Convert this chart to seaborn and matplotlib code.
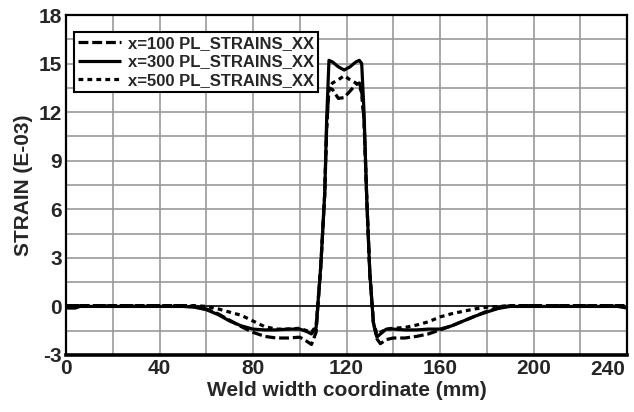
import numpy as np
import pandas as pd
import matplotlib
matplotlib.use("Agg")
import matplotlib.pyplot as plt
import seaborn as sns
from matplotlib.ticker import MultipleLocator

# ---- data ----
x_mm = [0, 4, 6, 20, 40, 50, 55, 60, 65, 70,
        75, 80, 85, 90, 95, 100, 103, 105, 107, 109,
        110.7, 111.5, 112.5, 114, 116.5, 119, 121.5, 124, 125.5, 126.5,
        127.5, 128.7, 130, 131.5, 133, 134.5, 137, 140, 145, 150,
        155, 160, 165, 170, 175, 180, 185, 190, 200, 220,
        236, 240]

strain_x100 = [0.05, 0.05, 0.05, 0.05, 0.05, 0.05, 0.0, -0.15, -0.45, -0.85,
               -1.25, -1.6, -1.85, -1.95, -1.95, -1.9, -2.15, -2.35, -1.6, 2.5,
               7.0, 11.0, 13.5, 13.4, 12.85, 12.9, 13.3, 13.7, 13.8, 13.3,
               11.5, 6.5, 2.0, -1.0, -2.0, -2.3, -2.05, -1.95, -1.95, -1.85,
               -1.7, -1.45, -1.2, -0.9, -0.6, -0.3, -0.1, 0.05, 0.05, 0.05,
               0.05, 0.05]

strain_x300 = [-0.1, -0.1, 0.0, 0.0, 0.0, 0.0, -0.05, -0.2, -0.5, -0.9,
               -1.2, -1.4, -1.45, -1.45, -1.4, -1.4, -1.55, -1.7, -1.3, 2.5,
               7.0, 11.5, 15.2, 15.1, 14.8, 14.6, 14.8, 15.1, 15.2, 15.0,
               12.0, 6.5, 2.0, -1.0, -1.9, -1.7, -1.4, -1.4, -1.45, -1.45,
               -1.4, -1.4, -1.2, -0.9, -0.6, -0.35, -0.12, 0.0, 0.0, 0.0,
               0.0, -0.1]

strain_x500 = [0.05, 0.05, 0.05, 0.05, 0.05, 0.05, 0.05, 0.0, -0.15, -0.35,
               -0.55, -0.9, -1.25, -1.4, -1.4, -1.35, -1.5, -1.6, -1.2, 2.5,
               7.0, 11.0, 13.5, 13.8, 14.0, 14.25, 14.0, 13.8, 13.6, 13.2,
               11.5, 6.5, 2.0, -1.0, -1.7, -1.6, -1.4, -1.35, -1.3, -1.15,
               -0.95, -0.65, -0.45, -0.3, -0.15, -0.05, 0.0, 0.05, 0.05, 0.05,
               0.05, 0.05]

series_labels = ["x=100 PL_STRAINS_XX", "x=300 PL_STRAINS_XX", "x=500 PL_STRAINS_XX"]
x_ticks = [0, 40, 80, 120, 160, 200, 240]
y_ticks = [-3, 0, 3, 6, 9, 12, 15, 18]

# ---- style ----
sns.set_style("white")
plt.rcParams["font.family"] = ["Liberation Sans", "DejaVu Sans"]
plt.rcParams["font.weight"] = "bold"
plt.rcParams["axes.unicode_minus"] = False

fig = plt.figure(figsize=(6.34, 4.12), dpi=100)
ax = fig.add_axes([66 / 634, 57 / 412, 561 / 634, 340 / 412])

ax.set_xlim(0, 240)
ax.set_ylim(-3, 18)
ax.xaxis.set_major_locator(MultipleLocator(40))
ax.xaxis.set_minor_locator(MultipleLocator(20))
ax.yaxis.set_major_locator(MultipleLocator(3))
ax.yaxis.set_minor_locator(MultipleLocator(1.5))
ax.grid(True, which="both", color="#9a9a9a", linewidth=1.2)
ax.set_axisbelow(True)
ax.axhline(0, color="black", linewidth=1.1, zorder=1.5)

df = pd.DataFrame({"x": x_mm, "s100": strain_x100, "s300": strain_x300, "s500": strain_x500})
styles = [(0, (3.1, 1.2)), "-", (0, (1.5, 1.3))]
for col, lab, ls in zip(["s100", "s300", "s500"], series_labels, styles):
    sns.lineplot(data=df, x="x", y=col, ax=ax, color="black", linewidth=2.3,
                 linestyle=ls, label=lab, solid_capstyle="butt",
                 dash_capstyle="butt", zorder=3)

ax.set_xticks(x_ticks)
ax.set_yticks(y_ticks)
ax.set_xticklabels([str(t) if t != 240 else "" for t in x_ticks])
ax.set_yticklabels([str(t) for t in y_ticks])
ax.annotate("240", xy=(240, -3), xycoords="data", xytext=(-14, -3.5),
            textcoords="offset points", ha="center", va="top",
            fontsize=15, fontweight="bold")
ax.tick_params(axis="both", which="both", length=0, labelsize=15, pad=3)
for lbl in ax.get_xticklabels() + ax.get_yticklabels():
    lbl.set_fontweight("bold")

ax.set_xlabel("Weld width coordinate (mm)", fontsize=15, fontweight="bold", labelpad=2)
ax.set_ylabel("STRAIN (E-03)", fontsize=15, fontweight="bold", labelpad=4)

for name, sp in ax.spines.items():
    sp.set_visible(True)
    sp.set_color("black")
    sp.set_linewidth(1.6)
ax.spines["bottom"].set_linewidth(2.6)

leg = ax.legend(loc="upper left", bbox_to_anchor=(0.014, 0.95), frameon=True,
                fancybox=False, shadow=False, edgecolor="black", framealpha=1,
                fontsize=12, handlelength=2.6, handletextpad=0.4,
                labelspacing=0.2, borderpad=0.25, borderaxespad=0)
leg.get_frame().set_linewidth(1.5)
for t in leg.get_texts():
    t.set_fontweight("bold")

fig.savefig("out.png", dpi=100)
